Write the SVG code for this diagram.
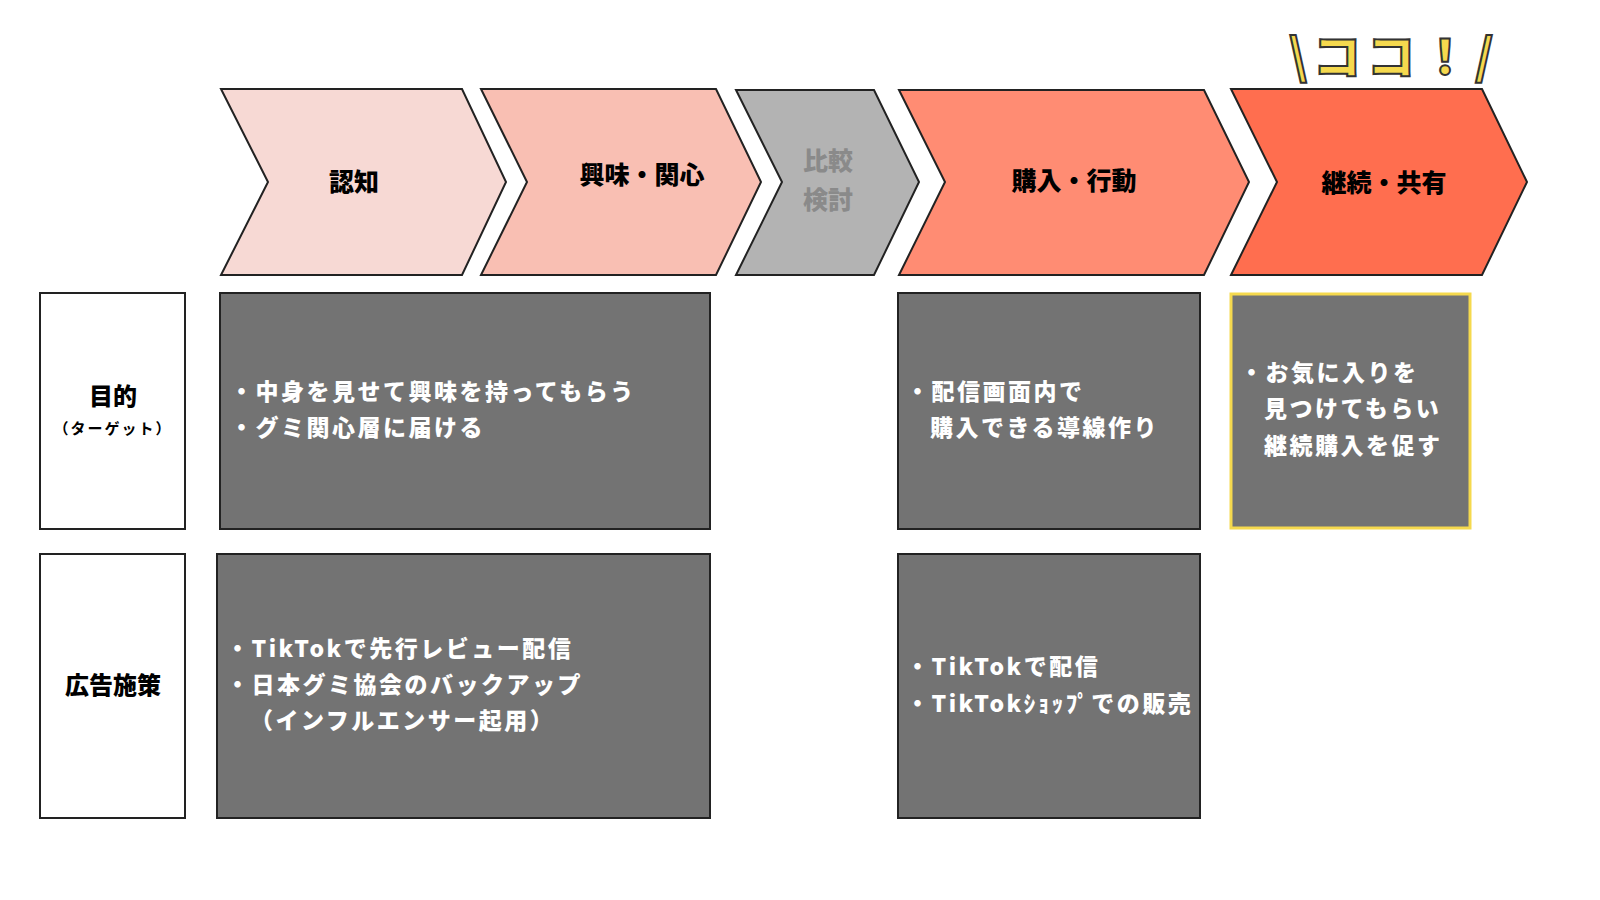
<svg xmlns="http://www.w3.org/2000/svg" width="1600" height="900" viewBox="0 0 1600 900">
<style>
.ch{stroke:#222;stroke-width:2}
.hd{font-family:"Noto Sans CJK JP",sans-serif;font-weight:900;font-size:25px;text-anchor:middle}
.bx{fill:#737373;stroke:#222;stroke-width:2}
.wb{fill:#fff;stroke:#222;stroke-width:2}
.t{font-family:"Noto Sans CJK JP",sans-serif;font-weight:900;font-size:23px;fill:#fff;letter-spacing:2.5px}
.lb{font-family:"Noto Sans CJK JP",sans-serif;font-weight:900;font-size:24px;text-anchor:middle}
</style>
<rect width="1600" height="900" fill="#fff"/>
<g id="stage1"><polygon class="ch" fill="#F7D9D4" points="221,89 462,89 506,182 462,275 221,275 268,182"/><text class="hd" x="354" y="191">認知</text></g>
<g id="stage2"><polygon class="ch" fill="#F9BFB3" points="481,89 716,89 761,182 716,275 481,275 527,182"/><text class="hd" x="642" y="184">興味・関心</text></g>
<g id="stage3"><polygon class="ch" fill="#B3B3B3" points="736,90 874,90 919,182 874,275 736,275 782,182"/><text class="hd" x="828" y="170" fill="#8a8a8a">比較</text><text class="hd" x="828" y="209" fill="#8a8a8a">検討</text></g>
<g id="stage4"><polygon class="ch" fill="#FF8C73" points="899,90 1204,90 1249,182 1204,275 899,275 945,182"/><text class="hd" x="1074" y="190">購入・行動</text></g>
<g id="stage5"><polygon class="ch" fill="#FF6E4F" points="1231,89 1482,89 1527,182 1482,275 1231,275 1277,182"/><text class="hd" x="1384" y="192">継続・共有</text></g>
<g id="koko"><text x="1394" y="74" font-family="Noto Sans CJK JP,sans-serif" font-weight="900" font-size="48" fill="#F5D94E" stroke="#333" stroke-width="2" letter-spacing="6" text-anchor="middle">\ココ！/</text></g>
<g id="label1"><rect class="wb" x="40" y="293" width="145" height="236"/><text class="lb" x="113" y="405">目的</text><text x="113" y="434" font-family="Noto Sans CJK JP,sans-serif" font-weight="700" font-size="15" letter-spacing="2" text-anchor="middle">（ターゲット）</text></g>
<g id="label2"><rect class="wb" x="40" y="554" width="145" height="264"/><text class="lb" x="113" y="694">広告施策</text></g>
<g id="goal1"><rect class="bx" x="220" y="293" width="490" height="236"/><text class="t" x="230" y="400">・中身を見せて興味を持ってもらう</text><text class="t" x="230" y="436">・グミ関心層に届ける</text></g>
<g id="goal2"><rect class="bx" x="898" y="293" width="302" height="236"/><text class="t" x="906" y="400">・配信画面内で</text><text class="t" x="930" y="436">購入できる導線作り</text></g>
<g id="goal3"><rect x="1231" y="294" width="239" height="234" fill="#737373" stroke="#F5D94E" stroke-width="3"/><text class="t" x="1240" y="381">・お気に入りを</text><text class="t" x="1264" y="417">見つけてもらい</text><text class="t" x="1264" y="454">継続購入を促す</text></g>
<g id="ad1"><rect class="bx" x="217" y="554" width="493" height="264"/><text class="t" x="226" y="657">・TikTokで先行レビュー配信</text><text class="t" x="226" y="693">・日本グミ協会のバックアップ</text><text class="t" x="250" y="729">（インフルエンサー起用）</text></g>
<g id="ad2"><rect class="bx" x="898" y="554" width="302" height="264"/><text class="t" x="906" y="675">・TikTokで配信</text><text class="t" x="906" y="712">・TikTokｼｮｯﾌﾟでの販売</text></g>
<g id="connectors"/>
</svg>
